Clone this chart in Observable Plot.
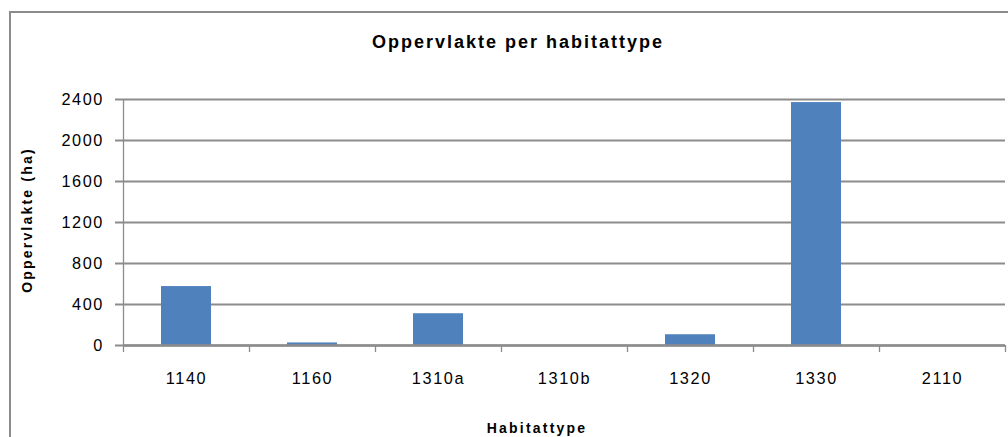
<!DOCTYPE html>
<html>
<head>
<meta charset="utf-8">
<script src="https://cdn.jsdelivr.net/npm/d3@7"></script>
<script src="https://cdn.jsdelivr.net/npm/@observablehq/plot@0.6"></script>
<style>
  html, body { margin: 0; padding: 0; background: #fff; }
  #wrap { position: relative; width: 1008px; height: 437px; overflow: hidden; }
  #frame { position: absolute; left: 9px; top: 11px; width: 1100px; height: 500px;
           border-left: 2px solid #8c8c8c; border-top: 2px solid #8c8c8c; }
  .lbl { position: absolute; font-family: "Liberation Sans", Arial, sans-serif; font-weight: bold;
         color: #000; white-space: nowrap; text-align: center; }
  #title { left: 0; width: 1036px; top: 33px; font-size: 18px; line-height: 18px; letter-spacing: 2px; }
  #xlab { left: 0; width: 1074px; top: 421px; font-size: 14px; line-height: 14px; letter-spacing: 2.2px; }
  #ylab { left: -73px; width: 200px; top: 213px; font-size: 14px; line-height: 14px; letter-spacing: 2.2px;
          transform: rotate(-90deg); }
  #chart { position: absolute; left: 0; top: 0; }
</style>
</head>
<body>
<div id="wrap">
  <div id="frame"></div>
  <div id="chart"></div>
  <div id="title" class="lbl">Oppervlakte per habitattype</div>
  <div id="ylab" class="lbl">Oppervlakte (ha)</div>
  <div id="xlab" class="lbl">Habitattype</div>
</div>
<script>
const categories = ["1140", "1160", "1310a", "1310b", "1320", "1330", "2110"];
const values = [575, 25, 310, 0, 105, 2370, 0];
const yTicks = [0, 400, 800, 1200, 1600, 2000, 2400];

const data = categories.map((c, i) => ({cat: c, i, v: values[i]}));
const n = categories.length;

const chart = Plot.plot({
  width: 1008,
  height: 437,
  marginLeft: 123,
  marginRight: 3,
  marginTop: 99,
  marginBottom: 92,
  style: {fontFamily: "Liberation Sans, Arial, sans-serif", fontSize: "16.3px", color: "#000",
          background: "transparent", letterSpacing: "1.6px"},
  x: {type: "linear", domain: [0, n], axis: null},
  y: {domain: [0, 2400], axis: null},
  marks: [
    Plot.ruleY(yTicks, {stroke: "#8c8c8c", strokeWidth: 2, insetLeft: -8}),
    Plot.axisY({ticks: yTicks, tickSize: 0, tickPadding: 19.5, tickFormat: d => String(d), fill: "#000", label: null}),
    Plot.ruleX([0], {stroke: "#8c8c8c", strokeWidth: 1.3}),
    Plot.rectY(data, {x1: d => d.i, x2: d => d.i + 1, y: "v", insetLeft: 38, insetRight: 38, fill: "#4f81bd"}),
    Plot.ruleY([0], {stroke: "#8c8c8c", strokeWidth: 2.5}),
    Plot.axisX({ticks: d3.range(0, n + 1), tickSize: 7, tickFormat: () => "", stroke: "#8c8c8c",
                strokeWidth: 1.3, strokeOpacity: 1, label: null}),
    Plot.axisX({ticks: categories.map((c, i) => i + 0.5), tickSize: 0, tickPadding: 27,
                tickFormat: v => categories[Math.floor(v)], fill: "#000", label: null})
  ]
});
document.getElementById("chart").appendChild(chart);
</script>
</body>
</html>
